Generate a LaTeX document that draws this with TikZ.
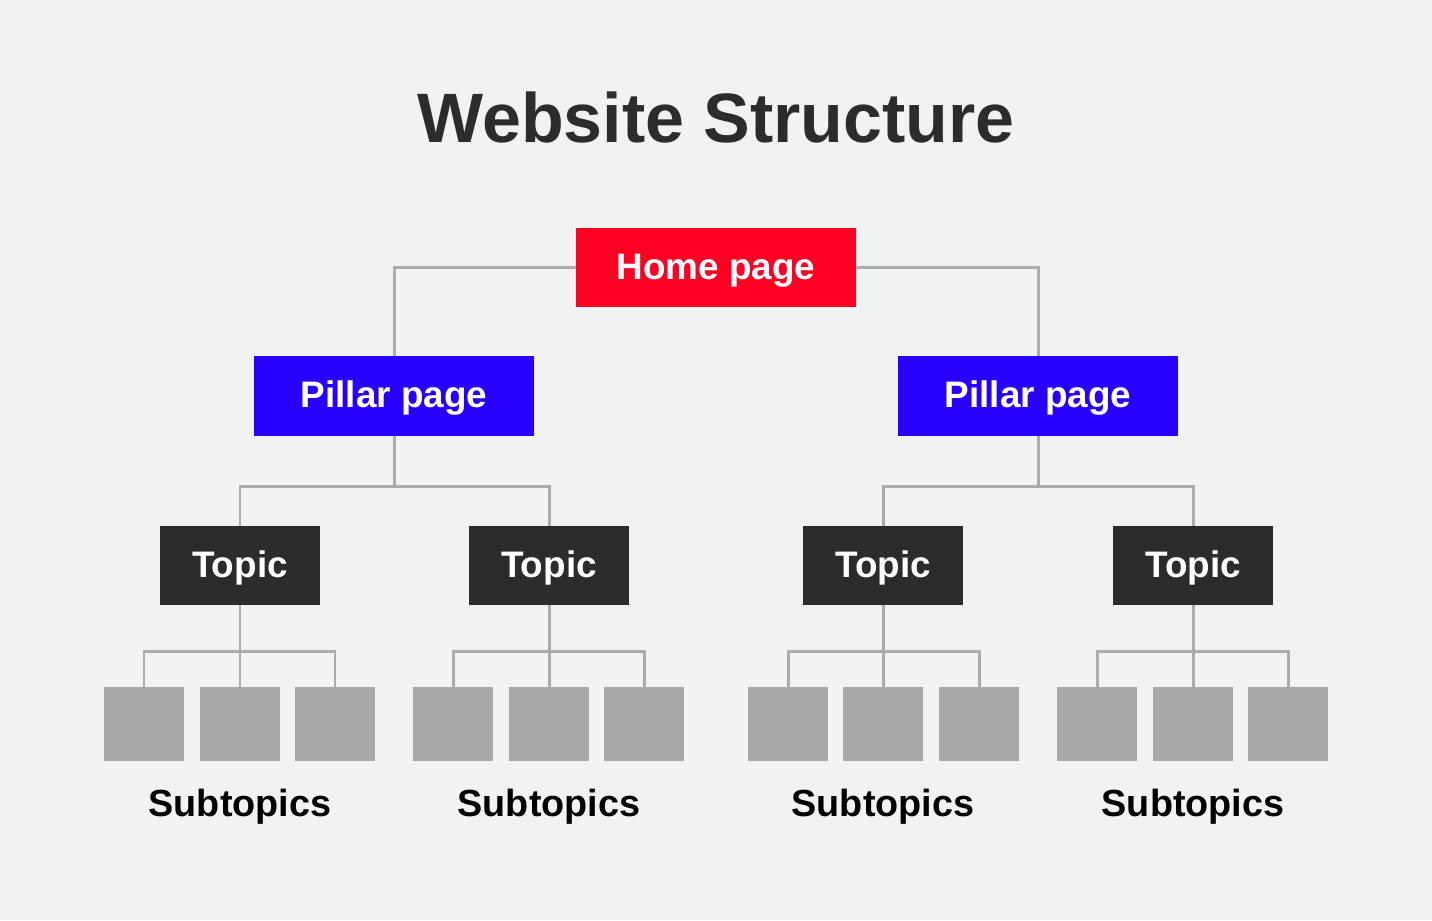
\documentclass[tikz,border=0pt]{standalone}
\usepackage{fontspec}
\setmainfont{Liberation Sans}
\usepackage{xcolor}
\usepackage{tikz}
\usetikzlibrary{positioning,calc}

\definecolor{bgGray}{HTML}{F1F2F2}
\definecolor{homeRed}{HTML}{FF0022}
\definecolor{pillarBlue}{HTML}{2800FF}
\definecolor{topicDark}{HTML}{2B2C2E}
\definecolor{subGray}{HTML}{A8A8A8}
\definecolor{lineGray}{HTML}{ABABAB}

\begin{document}
\begin{tikzpicture}[
    x=0.02cm, y=-0.02cm,
    ttl/.style={font=\fontsize{39.8pt}{44pt}\selectfont\bfseries, text=topicDark, anchor=base},
    home/.style={fill=homeRed, text=white, font=\fontsize{21pt}{24pt}\selectfont\bfseries, text height=15pt, text depth=1.5pt, minimum width=5.6cm, minimum height=1.58cm, inner sep=0pt},
    pillar/.style={fill=pillarBlue, text=white, font=\fontsize{21pt}{24pt}\selectfont\bfseries, text height=15pt, text depth=1.5pt, minimum width=5.6cm, minimum height=1.6cm, inner sep=0pt},
    topic/.style={fill=topicDark, text=white, font=\fontsize{21pt}{24pt}\selectfont\bfseries, text height=15pt, text depth=1.5pt, minimum width=3.2cm, minimum height=1.58cm, inner sep=0pt},
    sub/.style={fill=subGray, minimum width=1.6cm, minimum height=1.48cm, inner sep=0pt},
    sublbl/.style={font=\fontsize{21.5pt}{24pt}\selectfont\bfseries, text=black, anchor=base},
    link/.style={draw=lineGray, line width=1.7pt}
]

% ---- background ----
\fill[bgGray] (0,0) rectangle (1432,920);
\useasboundingbox (0,0) rectangle (1432,920);

% ---- title ----
\node[ttl] (title) at (716,142) {Website Structure};

% ---- home + pillars ----
\node[home] (home) at (716,267.5) {Home page};
\node[pillar] (pilL) at (394,396) {Pillar page};
\node[pillar] (pilR) at (1038,396) {Pillar page};

% ---- topics ----
\node[topic] (topA) at (240,565.5) {Topic};
\node[topic] (topB) at (549,565.5) {Topic};
\node[topic] (topC) at (883,565.5) {Topic};
\node[topic] (topD) at (1193,565.5) {Topic};

% ---- subtopics A ----
\node[sub] (sA1) at (144,724) {};
\node[sub] (sA2) at (240,724) {};
\node[sub] (sA3) at (335,724) {};
% ---- subtopics B ----
\node[sub] (sB1) at (453,724) {};
\node[sub] (sB2) at (549,724) {};
\node[sub] (sB3) at (644,724) {};
% ---- subtopics C ----
\node[sub] (sC1) at (788,724) {};
\node[sub] (sC2) at (883,724) {};
\node[sub] (sC3) at (979,724) {};
% ---- subtopics D ----
\node[sub] (sD1) at (1097,724) {};
\node[sub] (sD2) at (1193,724) {};
\node[sub] (sD3) at (1288,724) {};

% ---- subtopic labels ----
\node[sublbl] (lblA) at (240,816) {Subtopics};
\node[sublbl] (lblB) at (549,816) {Subtopics};
\node[sublbl] (lblC) at (883,816) {Subtopics};
\node[sublbl] (lblD) at (1193,816) {Subtopics};

% Relations
\draw[link] (home.west) -| (pilL.north);
\draw[link] (home.east) -| (pilR.north);

\draw[link] (pilL.south) -- ([yshift=-1cm]pilL.south);
\draw[link] (topA.north) |- ([yshift=-1cm]pilL.south) -| (topB.north);
\draw[link] (pilR.south) -- ([yshift=-1cm]pilR.south);
\draw[link] (topC.north) |- ([yshift=-1cm]pilR.south) -| (topD.north);

\draw[link] (topA.south) -- (sA2.north);
\draw[link] (sA1.north) |- ([yshift=-0.92cm]topA.south) -| (sA3.north);
\draw[link] (topB.south) -- (sB2.north);
\draw[link] (sB1.north) |- ([yshift=-0.92cm]topB.south) -| (sB3.north);
\draw[link] (topC.south) -- (sC2.north);
\draw[link] (sC1.north) |- ([yshift=-0.92cm]topC.south) -| (sC3.north);
\draw[link] (topD.south) -- (sD2.north);
\draw[link] (sD1.north) |- ([yshift=-0.92cm]topD.south) -| (sD3.north);
\end{tikzpicture}
\end{document}
